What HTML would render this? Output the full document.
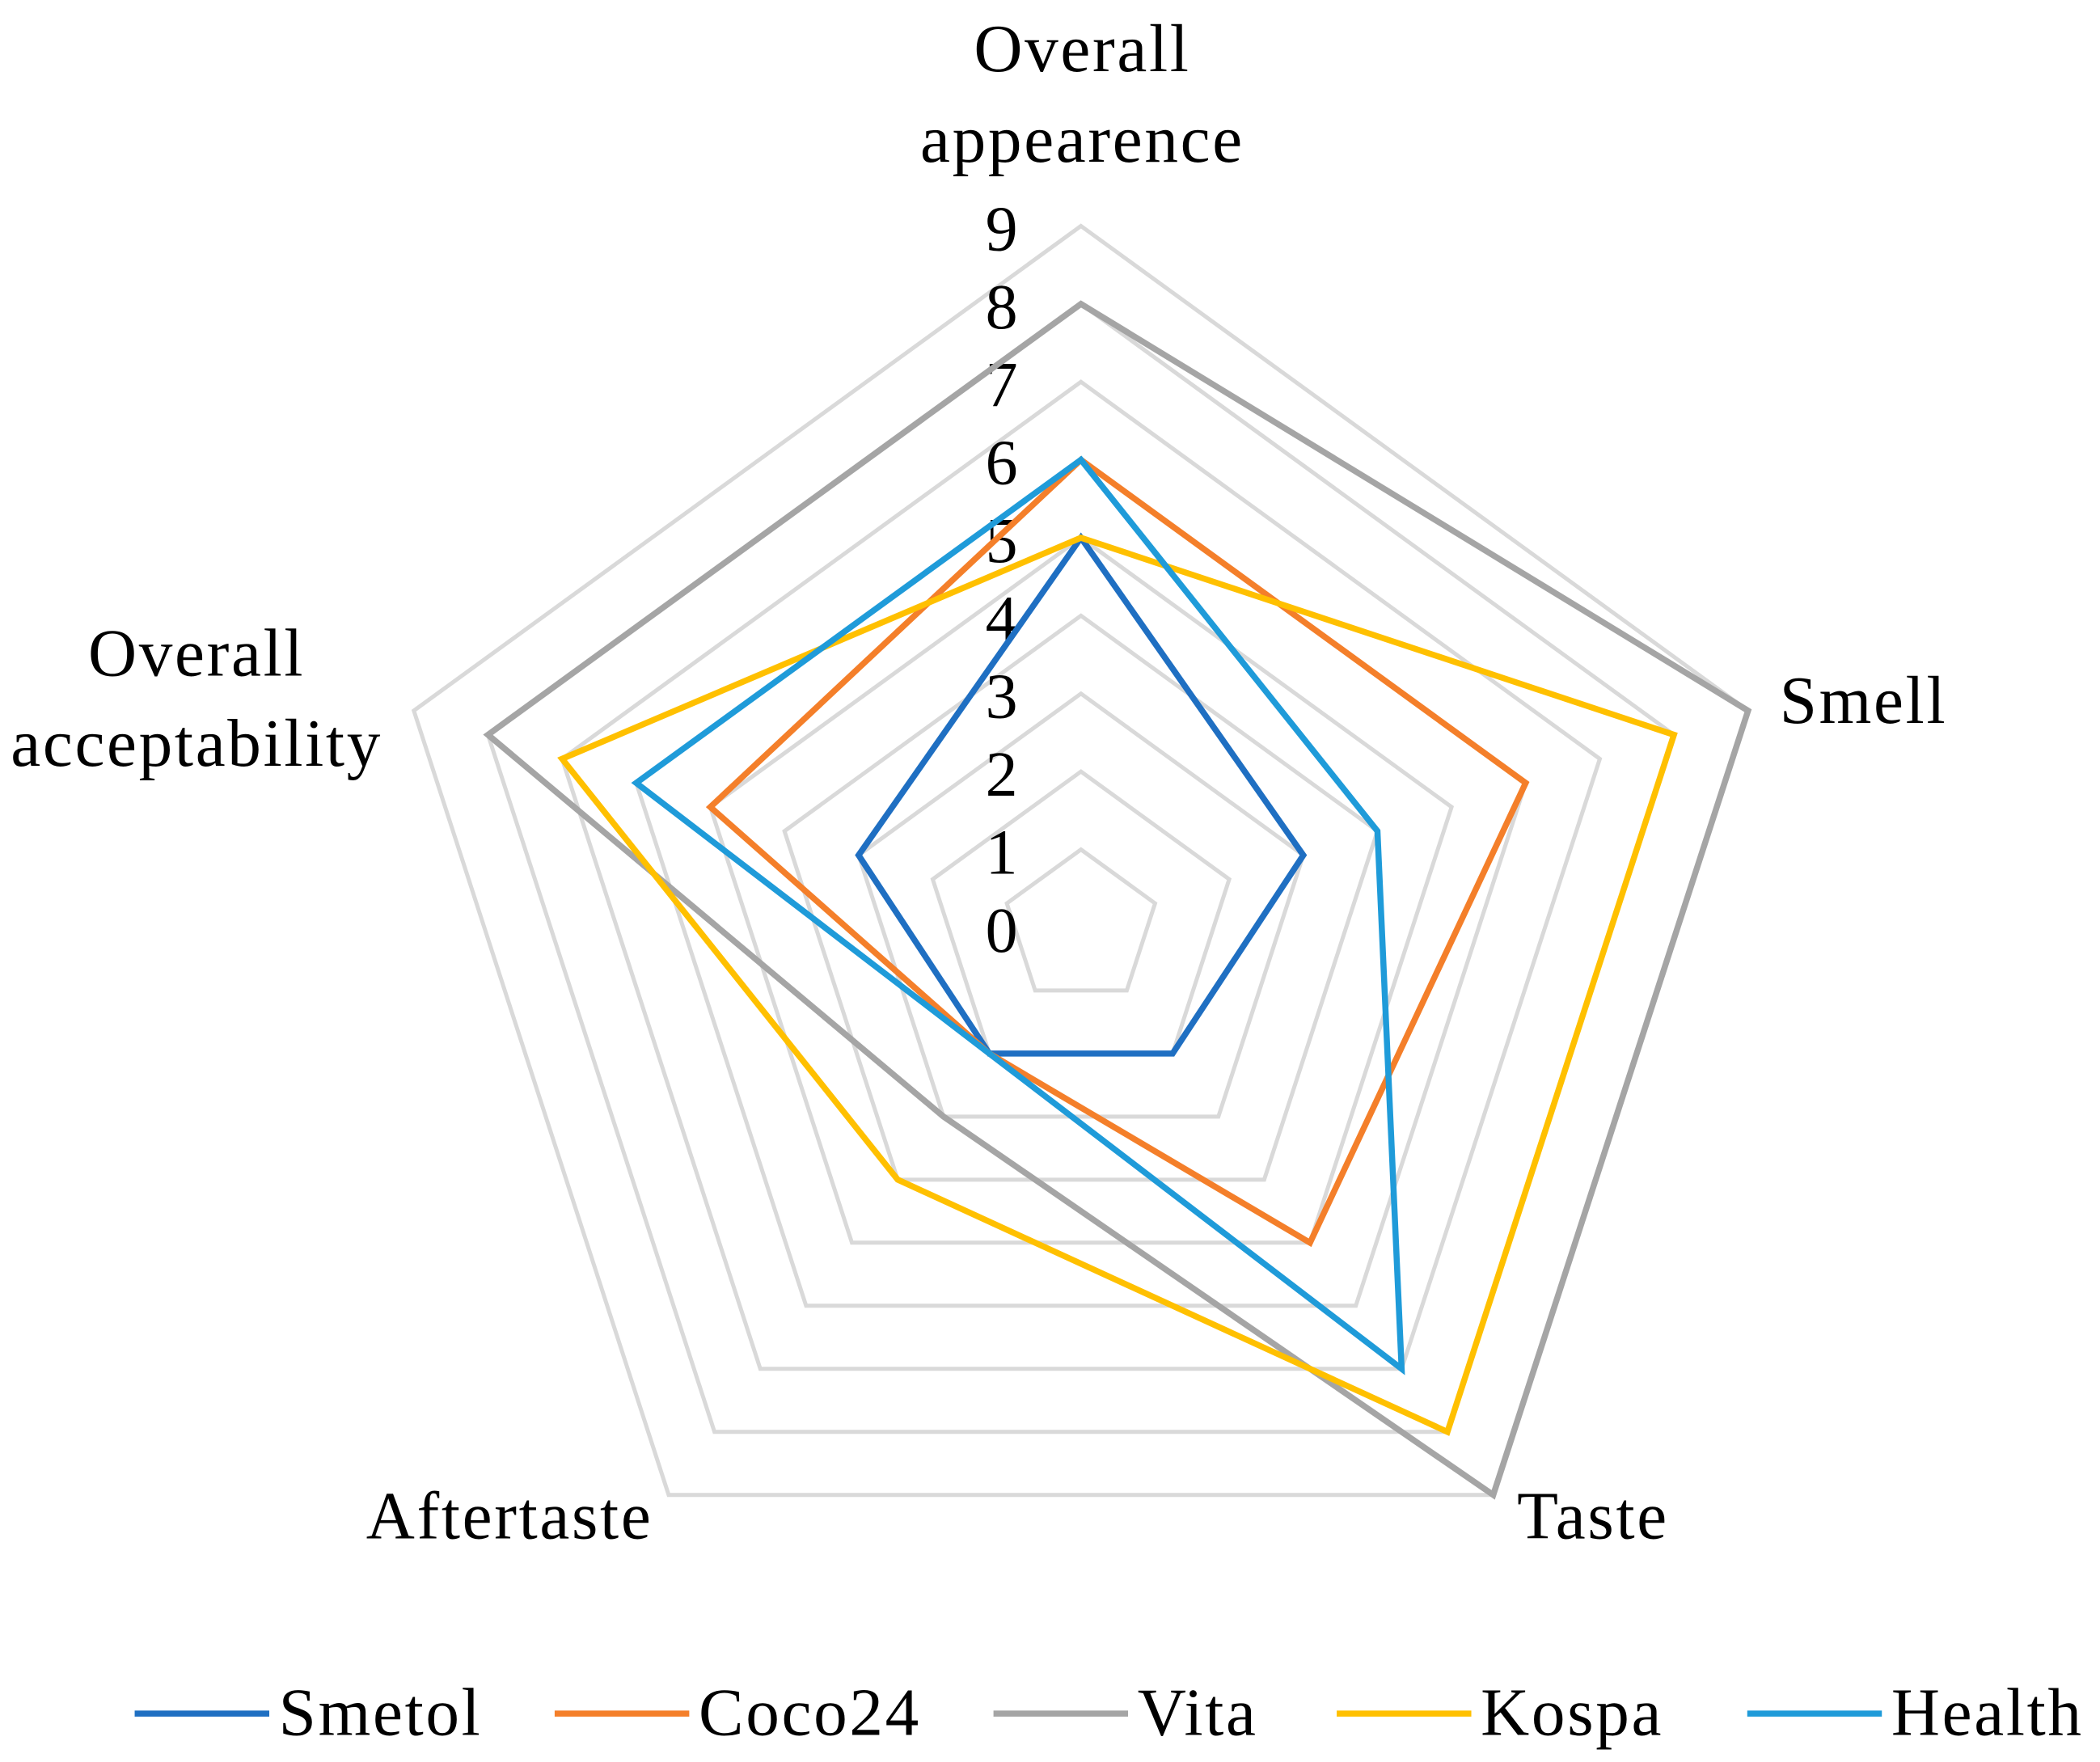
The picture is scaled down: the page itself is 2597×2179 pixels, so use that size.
<!DOCTYPE html>
<html><head><meta charset="utf-8"><style>html,body{margin:0;padding:0;background:#fff}svg{display:block}text{font-family:"Liberation Serif",serif;fill:#000}</style></head>
<body>
<svg id="chart" width="2597" height="2179" viewBox="0 0 1560 1309" xmlns="http://www.w3.org/2000/svg">
<g id="grid"></g>
<g id="ticks"></g>
<g id="series"></g>
<g id="labels"></g>
<g id="legend"></g>
</svg>
<script>
const categories = ["Overall appearence","Smell","Taste","Aftertaste","Overall acceptability"];
const seriesNames = ["Smetol","Coco24","Vita","Kospa","Health"];
const smetol = [5,3,2,2,3];
const coco24 = [6,6,5,2,5];
const vita = [8,9,9,3,8];
const kospa = [5,8,8,4,7];
const health = [6,4,7,2,6];
const tickLabels = ["0","1","2","3","4","5","6","7","8","9"];
const maxVal = 9;

const NS="http://www.w3.org/2000/svg";
const cx=803, cy=689, unit=57.9;
const colors=["#1F6FC2","#F47F2A","#A5A5A5","#FFC000","#1F9BD9"];
const allSeries=[smetol,coco24,vita,kospa,health];
function ang(i){return (-90+72*i)*Math.PI/180;}
function pt(i,v){const a=ang(i);return [cx+Math.cos(a)*v*unit, cy+Math.sin(a)*v*unit];}
function mk(tag,attrs,parent){const e=document.createElementNS(NS,tag);for(const k in attrs)e.setAttribute(k,attrs[k]);parent.appendChild(e);return e;}

const grid=document.getElementById('grid');
for(let l=1;l<=maxVal;l++){
  const pts=categories.map((c,i)=>pt(i,l).join(',')).join(' ');
  const p=mk('polygon',{points:pts,fill:'none',stroke:'#D9D9D9','stroke-width':3},grid);
  
  
}
const ticks=document.getElementById('ticks');
tickLabels.forEach((t,k)=>{
  const e=mk('text',{x:756,y:cy+18-k*unit,'text-anchor':'end','font-size':48},ticks);
  e.textContent=t;
  
  
});
const sg=document.getElementById('series');
allSeries.forEach((vals,s)=>{
  const pts=vals.map((v,i)=>pt(i,v).join(',')).join(' ');
  const p=mk('polygon',{points:pts,fill:'none',stroke:colors[s],'stroke-width':4.5,'stroke-linejoin':'miter'},sg);
  
  
});
const lab=document.getElementById('labels');
const labelDefs=[
  {lines:["Overall","appearence"],x:804,y:53,a:'middle'},
  {lines:["Smell"],x:1322,y:537,a:'start'},
  {lines:["Taste"],x:1127,y:1143,a:'start'},
  {lines:["Aftertaste"],x:485,y:1143,a:'end'},
  {lines:["Overall","acceptability"],x:146,y:502,a:'middle'}
];
labelDefs.forEach((d,i)=>{
  const e=mk('text',{x:d.x,y:d.y,'text-anchor':d.a,'font-size':50,'letter-spacing':1.6},lab);
  d.lines.forEach((ln,j)=>{const ts=mk('tspan',{x:d.x,dy:j?67:0},e);ts.textContent=ln;});
  
  
});
const lg=document.getElementById('legend');
const lx=[100,412,738,993,1298];
seriesNames.forEach((n,s)=>{
  const g=mk('g',{},lg);
  
  
  mk('line',{x1:lx[s],y1:1273,x2:lx[s]+100,y2:1273,stroke:colors[s],'stroke-width':4.5},g);
  const t=mk('text',{x:lx[s]+107,y:1289,'font-size':50,'letter-spacing':1.6},g);
  t.textContent=n;
});
</script>
</body></html>
